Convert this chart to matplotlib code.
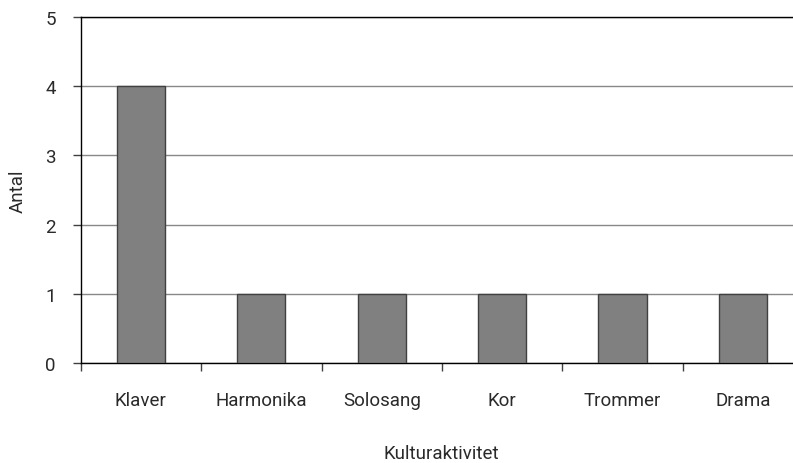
import matplotlib
matplotlib.use("Agg")
import matplotlib.pyplot as plt
import numpy as np

categories = ["Klaver", "Harmonika", "Solosang", "Kor", "Trommer", "Drama"]
values = [4, 1, 1, 1, 1, 1]
yticks = [0, 1, 2, 3, 4, 5]

plt.rcParams['font.family'] = ['Roboto', 'DejaVu Sans']
FS = 13.5
TC = "#2a2a2a"
W, H = 793, 464
fig = plt.figure(figsize=(W/100, H/100), dpi=100)
left, right, top, bottom = 80.7, 803.2, 18, 364
ax = fig.add_axes([left/W, 1-bottom/H, (right-left)/W, (bottom-top)/H])

x = np.arange(len(categories))
ax.bar(x, values, width=0.4, color="#808080", edgecolor="#404040", linewidth=1, zorder=3)
ax.set_xlim(-0.5, len(categories)-0.5)
ax.set_ylim(0, 5)
ax.set_yticks(yticks)
ax.set_yticklabels([str(t) for t in yticks])
ax.yaxis.grid(True, color="#888888", linewidth=1, zorder=0)
ax.set_axisbelow(True)

ax.set_xticks(np.arange(len(categories)+1)-0.5)
ax.set_xticklabels([])
ax.set_xticks(x, minor=True)
ax.set_xticklabels(categories, minor=True)
ax.tick_params(axis='x', which='major', length=6, width=1, color="#404040", direction='out')
ax.tick_params(axis='x', which='minor', length=0, pad=20, labelsize=FS, labelcolor=TC)
ax.tick_params(axis='y', length=6, width=1, color="#404040", pad=12, labelsize=FS, labelcolor=TC)

for s in ['left', 'bottom', 'top']:
    ax.spines[s].set_color('black')
    ax.spines[s].set_linewidth(1)
ax.spines['right'].set_visible(False)

fig.text(18/W, 1-191/H, "Antal", rotation=90, ha='center', va='center', fontsize=FS, color=TC)
fig.text(441/W, 1-454/H, "Kulturaktivitet", ha='center', va='center', fontsize=FS, color=TC)

fig.savefig("out.png", dpi=100)
